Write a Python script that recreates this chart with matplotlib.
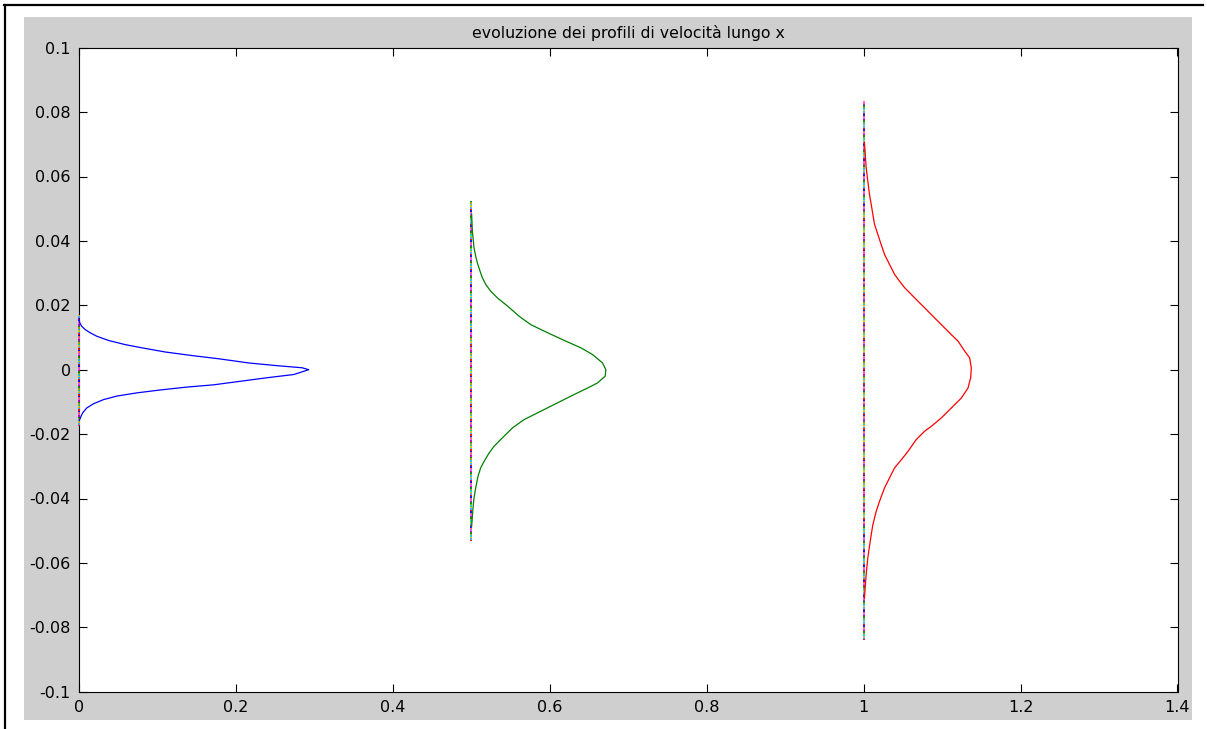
import numpy as np
import matplotlib
matplotlib.use("Agg")
import matplotlib.pyplot as plt
from matplotlib.collections import LineCollection
from matplotlib.lines import Line2D
from matplotlib.patches import Rectangle

# ---------------- data ----------------
title = "evoluzione dei profili di velocità lungo x"

stations = [0.0, 0.5, 1.0]          # x positions of the profiles

# blue profile (x = 0): y and velocity u
y_blue = [0.0159, 0.0146, 0.0135, 0.0125, 0.0115, 0.0104, 0.0091, 0.0078, 0.0068,
          0.0055, 0.0044, 0.0034, 0.0021, 0.0013, 0.0006, 0.0,
          -0.0015, -0.0025, -0.0036, -0.0047, -0.0054, -0.0063, -0.0072, -0.0082,
          -0.0093, -0.0106, -0.0119, -0.0134, -0.0147, -0.0158]
u_blue = [0.0000, 0.0009, 0.0034, 0.0077, 0.0140, 0.0226, 0.0374, 0.0587, 0.0800,
          0.1098, 0.1438, 0.1779, 0.2162, 0.2502, 0.2843, 0.2928,
          0.2736, 0.2396, 0.2055, 0.1715, 0.1374, 0.1034, 0.0736, 0.0481,
          0.0311, 0.0183, 0.0098, 0.0047, 0.0021, 0.0004]

# green profile (x = 0.5)
y_green = [0.0483, 0.0431, 0.0379, 0.0353, 0.0332, 0.0306, 0.0286, 0.0265, 0.0244,
           0.0223, 0.0198, 0.0166, 0.0140, 0.0115, 0.0091, 0.0068, 0.0047, 0.0021,
           0.0, -0.0020, -0.0041, -0.0057, -0.0077, -0.0103, -0.0129, -0.0155,
           -0.0181, -0.0217, -0.0238, -0.0259, -0.0285, -0.0305, -0.0331, -0.0368,
           -0.0399, -0.0430, -0.0487]
u_green = [0.0004, 0.0013, 0.0034, 0.0055, 0.0077, 0.0111, 0.0140, 0.0183, 0.0247,
           0.0332, 0.0460, 0.0609, 0.0757, 0.0970, 0.1183, 0.1396, 0.1545, 0.1672,
           0.1715, 0.1706, 0.1609, 0.1481, 0.1311, 0.1098, 0.0885, 0.0672,
           0.0523, 0.0374, 0.0289, 0.0226, 0.0162, 0.0119, 0.0085, 0.0055,
           0.0034, 0.0021, 0.0004]

# red profile (x = 1.0)
y_red = [0.0706, 0.0628, 0.0586, 0.0545, 0.0514, 0.0483, 0.0452, 0.0420, 0.0389,
         0.0358, 0.0327, 0.0296, 0.0275, 0.0255, 0.0234, 0.0213, 0.0187, 0.0161,
         0.0135, 0.0109, 0.0089, 0.0058, 0.0037, 0.0006, -0.0025, -0.0057,
         -0.0088, -0.0114, -0.0150, -0.0176, -0.0191, -0.0217, -0.0254, -0.0280,
         -0.0305, -0.0336, -0.0367, -0.0409, -0.0440, -0.0482, -0.0513, -0.0549,
         -0.0585, -0.0637, -0.0710]
u_red = [0.0010, 0.0032, 0.0053, 0.0074, 0.0096, 0.0117, 0.0138, 0.0181, 0.0223,
         0.0266, 0.0330, 0.0394, 0.0457, 0.0521, 0.0606, 0.0691, 0.0798, 0.0904,
         0.1011, 0.1117, 0.1202, 0.1287, 0.1351, 0.1372, 0.1364, 0.1330,
         0.1245, 0.1138, 0.0989, 0.0862, 0.0777, 0.0670, 0.0564, 0.0479,
         0.0394, 0.0330, 0.0266, 0.0202, 0.0160, 0.0117, 0.0096, 0.0074,
         0.0053, 0.0032, 0.0010]

# extent of the multicoloured zero-velocity lines at each station
axis_top = [0.0170, 0.0524, 0.0835]
axis_bot = [-0.0175, -0.0533, -0.0840]

x_ticks = [0, 0.2, 0.4, 0.6, 0.8, 1.0, 1.2, 1.4]
x_ticklabels = ["0", "0.2", "0.4", "0.6", "0.8", "1", "1.2", "1.4"]
y_ticks = [-0.1, -0.08, -0.06, -0.04, -0.02, 0, 0.02, 0.04, 0.06, 0.08, 0.1]
y_ticklabels = ["-0.1", "-0.08", "-0.06", "-0.04", "-0.02", "0",
                "0.02", "0.04", "0.06", "0.08", "0.1"]

# ---------------- figure ----------------
W, H = 1207, 729
plt.rcParams["font.family"] = ["DejaVu Sans"]
fig = plt.figure(figsize=(W / 100, H / 100), dpi=100, facecolor="white")

# grey MATLAB figure area
bg = Rectangle((24 / W, 1 - 720 / H), 1168 / W, 703 / H,
               transform=fig.transFigure, facecolor="#cfcfcf",
               edgecolor="none", zorder=-10)
fig.add_artist(bg)
# black frame lines (top and left)
fig.add_artist(Line2D([4 / W, 1203 / W], [1 - 5 / H, 1 - 5 / H],
                      transform=fig.transFigure, color="black", lw=1.6, zorder=-5))
fig.add_artist(Line2D([5 / W, 5 / W], [0, 1 - 5 / H],
                      transform=fig.transFigure, color="black", lw=1.6, zorder=-5))

ax = fig.add_axes([79 / W, 1 - 691.7 / H, (1177.5 - 79) / W, (691.7 - 47.7) / H])
ax.set_zorder(5)
ax.set_facecolor("white")

palette = ["#ff0000", "#00c8c8", "#c000c0", "#0000ff", "#c8c800",
           "#008000", "#ff6060", "#40a0ff", "#a0a000", "#ff40ff"]
for x0, yt, yb in zip(stations, axis_top, axis_bot):
    n = int((yt - yb) * 3215 / 1.5)
    ys = np.linspace(yb, yt, n + 1)
    segs = [[(x0, ys[i]), (x0, ys[i + 1])] for i in range(n)]
    cols = [palette[(i * 7) % len(palette)] for i in range(n)]
    lc = LineCollection(segs, colors=cols, linewidths=1.3, zorder=3)
    lc.set_clip_on(False)
    ax.add_collection(lc)

for x0, ys, us, c in zip(stations, [y_blue, y_green, y_red],
                         [u_blue, u_green, u_red], ["#0000ff", "#008000", "#ff0000"]):
    ax.plot(x0 + np.array(us), ys, color=c, lw=0.9, zorder=4, clip_on=False)

ax.set_xlim(0, 1.4)
ax.set_ylim(-0.1, 0.1)
ax.set_xticks(x_ticks)
ax.set_xticklabels(x_ticklabels)
ax.set_yticks(y_ticks)
ax.set_yticklabels(y_ticklabels)
ax.tick_params(direction="in", length=5.8, width=0.8, top=True, right=True,
               labelsize=11.5, colors="black", pad=6)
for s in ax.spines.values():
    s.set_linewidth(0.8)
    s.set_color("black")
    s.set_zorder(2)

ax.set_title(title, fontsize=11.3, pad=7)

fig.savefig("out.png", dpi=100, facecolor="white")
